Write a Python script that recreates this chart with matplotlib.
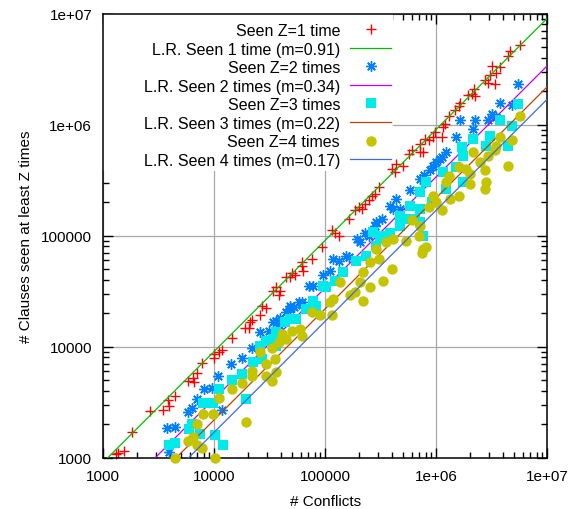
import numpy as np
import matplotlib
matplotlib.use("Agg")
import matplotlib.pyplot as plt
from matplotlib.patches import Rectangle
from matplotlib.ticker import NullFormatter, LogLocator

plt.rcParams['font.family'] = ['Liberation Sans', 'DejaVu Sans']
plt.rcParams['font.size'] = 11

# ---- data (log10 of # conflicts, log10 of # clauses seen at least Z times) ----
z1_log_conflicts = [3.11, 3.13, 3.19, 3.26, 3.42, 3.54, 3.59, 3.58, 3.65, 3.76, 3.81, 3.82, 3.84, 3.89, 4.00,
                    4.00, 4.04, 4.07, 4.16, 4.28, 4.32, 4.31, 4.34, 4.41, 4.43, 4.47, 4.53, 4.56, 4.59, 4.58,
                    4.68, 4.70, 4.73, 4.79, 4.80, 4.65, 4.79, 4.88, 4.97, 5.06, 5.09, 5.12, 5.21, 5.27, 5.30,
                    5.33, 5.36, 5.39, 5.42, 5.45, 5.48, 5.60, 5.63, 5.64, 5.75, 5.78, 5.85, 5.85, 5.90, 5.93,
                    5.97, 5.99, 6.06, 6.08, 5.70, 5.88, 6.05, 6.11, 6.17, 6.20, 6.21, 6.29, 6.32, 6.35, 6.44,
                    6.47, 6.53, 6.54, 6.57, 6.48, 6.50, 6.65, 6.66, 6.75, 6.34]
z1_log_clauses = [3.03, 3.04, 3.06, 3.23, 3.42, 3.43, 3.47, 3.52, 3.56, 3.69, 3.72, 3.68, 3.76, 3.85, 3.90,
                  3.93, 3.95, 3.97, 4.08, 4.17, 4.22, 4.17, 4.24, 4.29, 4.37, 4.35, 4.50, 4.54, 4.50, 4.47,
                  4.63, 4.66, 4.65, 4.73, 4.68, 4.63, 4.76, 4.79, 4.90, 5.05, 5.02, 5.00, 5.15, 5.23, 5.26,
                  5.24, 5.29, 5.32, 5.36, 5.38, 5.44, 5.60, 5.57, 5.65, 5.74, 5.77, 5.75, 5.83, 5.87, 5.86,
                  5.89, 5.93, 5.98, 6.01, 5.63, 5.75, 5.89, 6.08, 6.13, 6.17, 6.20, 6.27, 6.28, 6.26, 6.40,
                  6.38, 6.37, 6.47, 6.52, 6.45, 6.53, 6.62, 6.66, 6.72, 6.32]

z2_log_conflicts = [3.59, 3.57, 3.65, 3.76, 3.80, 3.84, 3.91, 3.98, 4.03, 4.07, 4.15, 4.25, 4.34, 4.41, 4.49,
                    4.56, 4.58, 4.65, 4.68, 4.76, 4.79, 4.85, 4.59, 4.68, 4.79, 4.89, 4.98, 5.04, 5.12, 5.21,
                    5.31, 5.36, 5.39, 5.46, 5.45, 5.51, 5.58, 5.64, 5.67, 5.76, 5.85, 5.94, 5.97, 6.03, 6.09,
                    6.05, 6.18, 6.21, 6.33, 6.35, 6.47, 6.50, 6.57, 6.68, 6.74, 6.54, 5.61, 5.07, 5.19, 4.53,
                    5.29, 5.89, 6.00, 4.72]
z2_log_clauses = [3.05, 3.27, 3.28, 3.41, 3.45, 3.53, 3.62, 3.63, 3.74, 3.43, 3.84, 3.90, 3.99, 4.13, 4.14,
                  4.23, 4.20, 4.31, 4.34, 4.40, 4.40, 4.55, 4.26, 4.37, 4.38, 4.55, 4.65, 4.68, 4.77, 4.81,
                  4.94, 5.02, 5.00, 5.12, 5.09, 5.15, 5.27, 5.33, 5.24, 5.41, 5.51, 5.59, 5.63, 5.69, 5.75,
                  5.71, 5.89, 6.04, 5.96, 6.04, 6.04, 6.10, 6.20, 6.18, 6.37, 6.07, 5.24, 4.79, 4.82, 4.22,
                  4.97, 5.55, 5.66, 4.36]

z3_log_conflicts = [3.59, 3.65, 3.77, 3.80, 3.87, 3.90, 3.99, 4.04, 4.01, 4.08, 4.16, 4.25, 4.29, 4.35, 4.41,
                    4.53, 4.64, 4.74, 4.89, 5.01, 5.16, 5.28, 5.37, 5.46, 5.58, 5.67, 5.81, 5.88, 5.85, 5.96,
                    6.09, 6.24, 5.43, 5.52, 6.74, 6.68, 6.65, 6.57, 6.48, 6.33, 6.24, 6.18, 6.06, 6.45, 6.23,
                    5.91, 5.85, 5.76, 5.67, 5.49, 5.73, 5.85, 4.47, 4.56, 4.68, 4.83, 4.43, 4.56, 5.09, 4.92,
                    4.98]
z3_log_clauses = [3.11, 3.13, 3.26, 3.30, 3.21, 3.49, 3.49, 3.62, 3.20, 3.11, 3.70, 3.75, 3.53, 3.86, 4.01,
                  4.07, 4.22, 4.25, 4.41, 4.54, 4.67, 4.77, 4.82, 4.91, 5.02, 5.09, 5.15, 5.00, 5.24, 5.30,
                  5.42, 5.48, 5.03, 4.97, 6.19, 5.99, 5.81, 6.04, 5.90, 5.87, 5.72, 5.62, 5.57, 5.81, 5.80,
                  5.48, 5.39, 5.27, 5.18, 5.00, 5.15, 5.12, 4.05, 4.13, 4.25, 4.34, 3.89, 4.01, 4.59, 4.37,
                  4.55]

z4_log_conflicts = [3.65, 4.01, 3.76, 3.81, 3.84, 3.89, 3.84, 3.90, 3.99, 4.04, 4.16, 4.25, 4.34, 4.34, 4.47,
                    4.52, 4.56, 4.47, 4.55, 4.41, 4.52, 4.58, 4.61, 4.65, 4.70, 4.77, 4.79, 4.29, 4.88, 4.95,
                    5.06, 5.04, 5.07, 5.13, 5.22, 5.27, 5.34, 5.31, 5.34, 5.40, 5.40, 5.48, 5.52, 5.60, 5.46,
                    5.55, 5.61, 5.73, 5.78, 5.85, 5.88, 5.87, 5.91, 5.93, 5.97, 6.00, 6.05, 6.12, 6.20, 6.30,
                    6.44, 6.45, 6.75, 6.57, 6.68, 6.65, 6.53, 6.47, 6.39, 6.33, 6.44, 6.27, 6.20, 6.11, 6.54,
                    6.30, 6.09, 5.84]
z4_log_clauses = [3.00, 3.00, 3.15, 3.19, 3.11, 3.09, 3.30, 3.39, 3.39, 3.54, 3.62, 3.67, 3.74, 3.78, 3.74,
                  3.69, 3.77, 3.84, 3.89, 3.95, 3.99, 4.04, 4.11, 4.07, 4.14, 4.16, 4.10, 3.32, 4.31, 4.29,
                  4.29, 4.40, 4.43, 4.58, 4.47, 4.49, 4.41, 4.58, 4.67, 4.54, 4.76, 4.79, 4.59, 4.70, 4.88,
                  4.94, 4.97, 4.95, 5.14, 5.09, 4.88, 4.84, 4.90, 5.26, 5.36, 5.30, 5.23, 5.33, 5.36, 5.47,
                  5.42, 5.48, 6.08, 5.89, 5.86, 5.63, 5.77, 5.72, 5.66, 5.75, 5.59, 5.60, 5.62, 5.54, 5.81,
                  5.56, 5.48, 5.00]

slopes = [0.91, 0.34, 0.22, 0.17]
series_labels = ["Seen Z=1 time", "Seen Z=2 times", "Seen Z=3 times", "Seen Z=4 times"]
fit_labels = ["L.R. Seen 1 time (m=0.91)", "L.R. Seen 2 times (m=0.34)",
              "L.R. Seen 3 times (m=0.22)", "L.R. Seen 4 times (m=0.17)"]
axis_range = [1e3, 1e7]
tick_values = [1e3, 1e4, 1e5, 1e6, 1e7]
tick_labels = ["1000", "10000", "100000", "1e+06", "1e+07"]

point_colors = ['#ff0000', '#0080ff', '#00eaea', '#c4c400']
line_colors = ['#00c000', '#c000ff', '#c04000', '#4169e1']
markers = ['+', (8, 2, 0), 's', 'o']
msizes = [7.8, 7.5, 6.5, 7.5]
mews = [1.0, 1.0, 0, 0]

series = [(z1_log_conflicts, z1_log_clauses), (z2_log_conflicts, z2_log_clauses),
          (z3_log_conflicts, z3_log_clauses), (z4_log_conflicts, z4_log_clauses)]

W, H = 573, 510
fig = plt.figure(figsize=(W / 100, H / 100), dpi=100)
ax = fig.add_axes([103.3 / W, 51.3 / H, 444 / W, 444 / H])
ax.set_xscale('log')
ax.set_yscale('log')
ax.set_xlim(axis_range)
ax.set_ylim(axis_range)

ax.set_axisbelow(True)
ax.grid(True, which='major', color='#a8a8a8', lw=0.9)

# opaque key background
ax.add_patch(Rectangle((0, 0.646), 0.652, 0.354, transform=ax.transAxes,
                       facecolor='white', edgecolor='none', zorder=1))

handles = []
xl = np.array(axis_range)
for i, (lx, ly) in enumerate(series):
    x = np.power(10.0, np.array(lx))
    y = np.power(10.0, np.array(ly))
    h1, = ax.plot(x, y, linestyle='none', marker=markers[i], ms=msizes[i],
                  mew=mews[i], color=point_colors[i], mec=point_colors[i],
                  label=series_labels[i], clip_on=False, zorder=2 + 2 * i)
    h2, = ax.plot(xl, slopes[i] * xl, color=line_colors[i], lw=0.9,
                  label=fit_labels[i], zorder=3 + 2 * i)
    handles += [h1, h2]

leg = ax.legend(handles=handles, loc='upper right', bbox_to_anchor=(0.649, 0.979),
                markerfirst=False, frameon=False, numpoints=1, handlelength=2.6,
                handletextpad=0.62, labelspacing=0.22, borderpad=0, borderaxespad=0,
                fontsize=11.5)
leg.set_zorder(20)

ax.set_xticks(tick_values, tick_labels)
ax.set_yticks(tick_values, tick_labels)
ax.xaxis.set_minor_locator(LogLocator(base=10, subs=np.arange(2, 10)))
ax.yaxis.set_minor_locator(LogLocator(base=10, subs=np.arange(2, 10)))
ax.xaxis.set_minor_formatter(NullFormatter())
ax.yaxis.set_minor_formatter(NullFormatter())
ax.tick_params(which='both', direction='in', top=True, right=True, width=1, colors='black')
ax.tick_params(which='major', length=7, pad=8)
ax.tick_params(which='minor', length=4)
for s in ax.spines.values():
    s.set_linewidth(1.1)

ax.set_xlabel("# Conflicts", labelpad=8)
ax.set_ylabel("# Clauses seen at least Z times", labelpad=6)

fig.savefig("out.png", dpi=100)
